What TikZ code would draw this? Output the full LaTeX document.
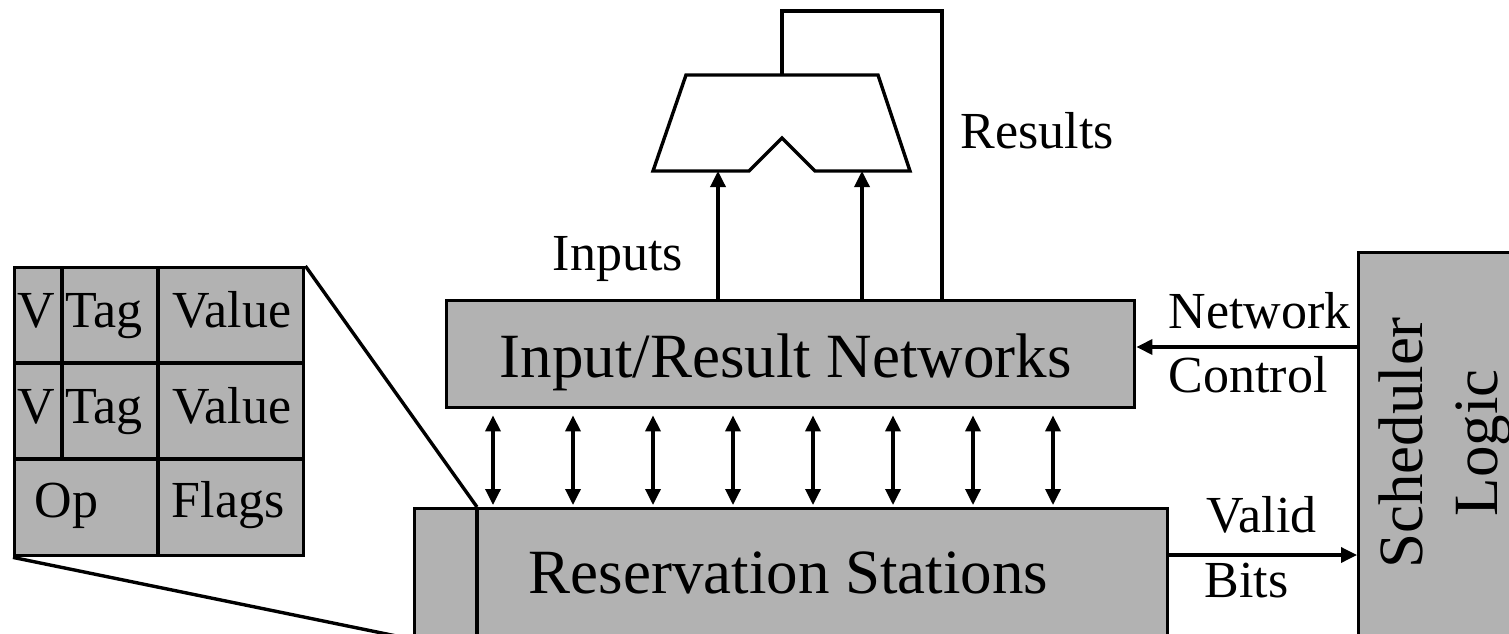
\documentclass[tikz,border=0pt]{standalone}
\usepackage{fontspec}
\setmainfont{Liberation Serif}
\usetikzlibrary{arrows.meta}
\definecolor{boxgray}{RGB}{178,178,178}
\begin{document}
\begin{tikzpicture}[x=1pt,y=-1pt,line width=3.4pt,
  box/.style={draw,fill=boxgray,inner sep=0pt,anchor=north west},
  lbl/.style={inner sep=0pt,anchor=base west,font=\fontsize{52}{60}\selectfont},
  biglbl/.style={inner sep=0pt,anchor=base west,font=\fontsize{63}{72}\selectfont},
  arr/.style={-{Triangle[length=16pt,width=15pt]}},
  biarr/.style={{Triangle[length=16pt,width=15pt]}-{Triangle[length=16pt,width=15pt]}}]
\useasboundingbox (0,0) rectangle (1509,634);
\clip (0,0) rectangle (1509,634);

% blocks
\node[box,minimum width=688,minimum height=107] (net) at (445,299) {};
\node[box,minimum width=753,minimum height=129] (rs) at (413,507) {};
\node[box,minimum width=190,minimum height=400] (sched) at (1357,251) {};
\node[box,minimum width=289,minimum height=288] (tbl) at (13,266) {};

% reservation station entry divider
\coordinate (rsdivtop) at (477,507);
\draw (rsdivtop) -- (477,640);

% entry fields
\draw (13,363) -- (302,363);
\draw (13,459) -- (302,459);
\draw (62,266) -- (62,459);
\draw (158,266) -- (158,554);

% zoom lines from the entry to the station
\draw (tbl.north east) -- (rsdivtop);
\draw (tbl.south west) -- (rs.south west);

% functional unit
\coordinate (aluout) at (782,75);
\coordinate (in1) at (718,171);
\coordinate (in2) at (862,171);
\coordinate (rtop) at (782,11);
\draw[line join=miter] (686,75) -- (878,75) -- (910,171) -- (815,171) -- (782,138)
  -- (749,171) -- (653,171) -- cycle;

% operand and result wiring
\draw[arr] ([xshift=273]net.north west) -- (in1);
\draw[arr] ([xshift=417]net.north west) -- (in2);
\draw ([xshift=497]net.north west) |- (rtop) -- (aluout);

% network <-> reservation station ports
\foreach \i [evaluate=\i as \a using 48+80*\i, evaluate=\i as \b using 80+80*\i] in {0,...,7}
  \draw[biarr,shorten <=6pt,shorten >=2pt] ([xshift=\a]net.south west) -- ([xshift=\b]rs.north west);

% scheduler signals
\coordinate (ncy) at (0,347);
\coordinate (vby) at (0,555);
\draw[arr] (sched.west |- ncy) -- (net.east |- ncy);
\draw[arr] (rs.east |- vby) -- (sched.west |- vby);

% labels
\node[biglbl] (netlbl) at (498,377) {Input/Result Networks};
\node[biglbl] (rslbl) at (527,593) {Reservation Stations};
\node[lbl] (inlbl) at (551,270) {Inputs};
\node[lbl] (reslbl) at (959,148) {Results};
\node[lbl] (nclbl1) at (1167,328) {Network};
\node[lbl] (nclbl2) at (1167,392) {Control};
\node[lbl] (vblbl1) at (1205,532) {Valid};
\node[lbl] (vblbl2) at (1203,597) {Bits};
\node[biglbl,anchor=base,rotate=90] (schlbl1) at (1422,443) {Scheduler};
\node[biglbl,anchor=base,rotate=90] (schlbl2) at (1497,443) {Logic};

% entry field labels
\node[lbl] (v1) at (16,327) {V};
\node[lbl] (t1) at (64,327) {Tag};
\node[lbl] (val1) at (171,327) {Value};
\node[lbl] (v2) at (16,423) {V};
\node[lbl] (t2) at (64,423) {Tag};
\node[lbl] (val2) at (171,423) {Value};
\node[lbl] (op) at (33,517) {Op};
\node[lbl] (fl) at (170,517) {Flags};
\end{tikzpicture}
\end{document}
